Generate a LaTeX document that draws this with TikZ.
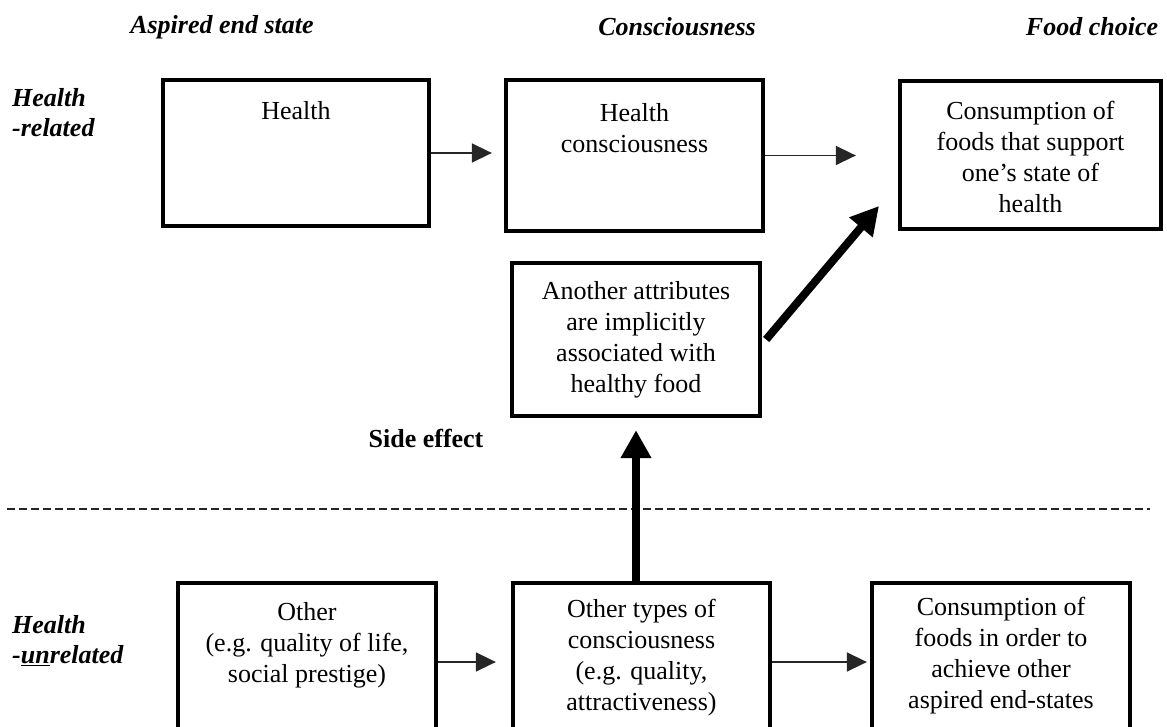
\documentclass[tikz,border=0pt]{standalone}
\usepackage{fontspec}
\setmainfont{Liberation Serif}
\usetikzlibrary{arrows.meta,calc}
\begin{document}
\begin{tikzpicture}[x=1pt,y=-1pt,
  box/.style={draw=black,line width=4.3pt,rectangle,inner sep=0pt,fill=none},
  txt/.style={align=center,inner sep=0pt,font=\fontsize{26}{31}\selectfont},
  head/.style={inner sep=0pt,font=\fontsize{26}{31}\selectfont\bfseries\itshape},
  side/.style={align=left,inner sep=0pt,font=\fontsize{26}{30}\selectfont\bfseries\itshape},
  thinarrow/.style={draw=black!85,line width=1.6pt,-{Triangle[length=20pt,width=19pt]}},
  thickarrow/.style={draw=black,line width=8pt,-{Triangle[length=28pt,width=29pt]}},
  sep/.style={draw=black!85,line width=1.6pt,dash pattern=on 8pt off 4pt}]
\clip (0,0) rectangle (1167,727);
\fill[white] (0,0) rectangle (1167,727);
% headings
\node[head] (h1) at (222,27) {Aspired end state};
\node[head] (h2) at (677,27) {Consciousness};
\node[head] (h3) at (1092,27) {Food choice};
% row labels
\node[side,anchor=west] (rel) at (12,113) {Health\\-related};
\node[side,anchor=west] (unrel) at (12,641) {Health\\-\underline{un}related};
% boxes
\node[box,minimum width=266pt,minimum height=146pt] (health) at (296,153) {};
\node[box,minimum width=257pt,minimum height=151pt] (hcons) at (634.5,155.5) {};
\node[box,minimum width=261pt,minimum height=148pt] (food) at (1030.5,155) {};
\node[box,minimum width=248pt,minimum height=153pt] (attr) at (636,339.5) {};
\node[box,minimum width=258pt,minimum height=158pt] (other) at (307,662) {};
\node[box,minimum width=257pt,minimum height=158pt] (otypes) at (641.5,662) {};
\node[box,minimum width=258pt,minimum height=158pt] (ofood) at (1001,662) {};
% box texts
\node[txt] (thealth) at (296,111) {Health};
\node[txt] (thcons) at (634.5,128) {Health\\consciousness};
\node[txt] (tfood) at (1030.5,157) {Consumption of\\foods that support\\one’s state of\\health};
\node[txt] (tattr) at (636,340) {Another attributes\\are implicitly\\associated with\\healthy food};
\node[txt] (tother) at (307,645) {Other\\(e.g. quality of life,\\social prestige)};
\node[txt] (totypes) at (641.5,658) {Other types of\\consciousness\\(e.g. quality,\\attractiveness)};
\node[txt] (tofood) at (1001,656) {Consumption of\\foods in order to\\achieve other\\aspired end-states};
% side effect
\node[inner sep=0pt,font=\fontsize{26}{31}\selectfont\bfseries] (sideeff) at (426,438) {Side effect};
% dashed separator
\coordinate (dl) at (7,509);
\coordinate (dr) at (1150,509);
\draw[sep] (dl) -- (dr);
% thin arrows
\draw[thinarrow,shorten >=12pt] (health.east) -- (health.east -| hcons.west);
\draw[thinarrow,shorten >=42pt] (hcons.east) -- (hcons.east -| food.west);
\draw[thinarrow,shorten >=15pt] (other.east) -- (other.east -| otypes.west);
\draw[thinarrow,shorten >=3pt] (otypes.east) -- (otypes.east -| ofood.west);
% thick arrows
\draw[thickarrow,shorten >=12pt] (attr.south |- otypes.north) -- (attr.south);
\coordinate (diagtip) at (879,206);
\draw[thickarrow] ($(attr.east)+(4,0)$) -- (diagtip);
\end{tikzpicture}
\end{document}
